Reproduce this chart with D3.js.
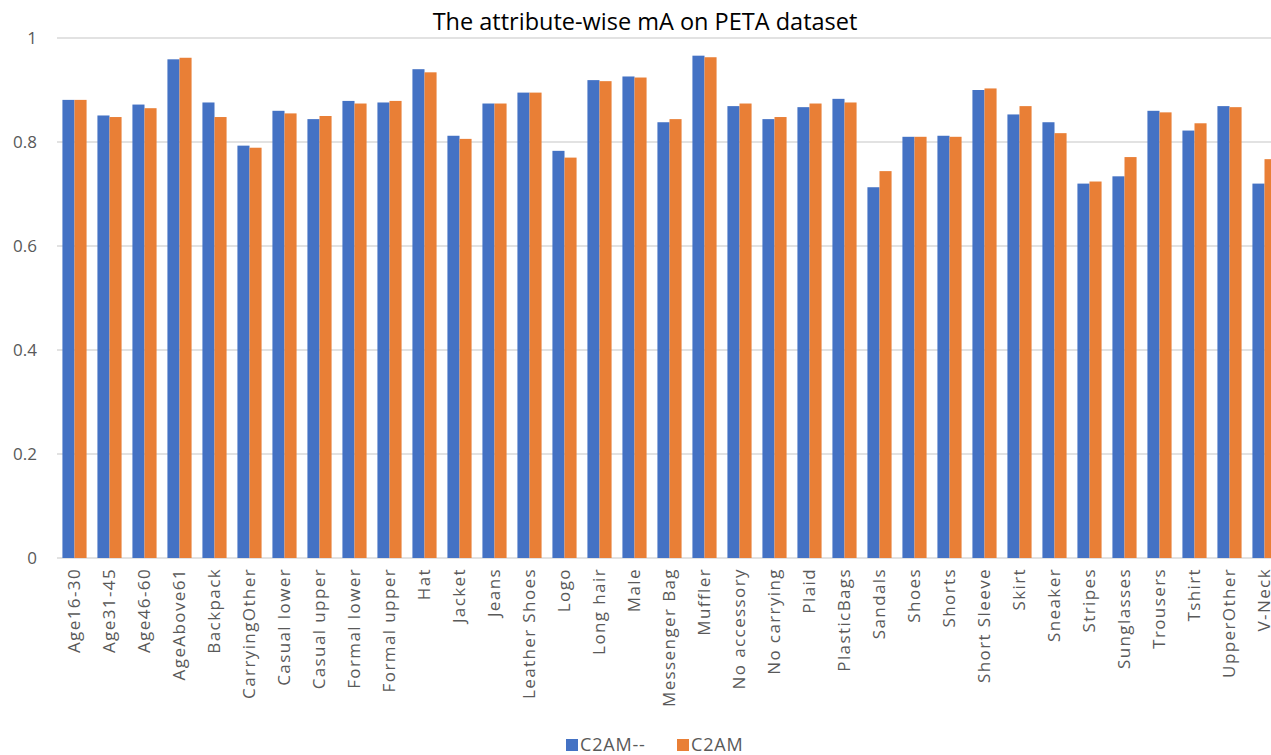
<!DOCTYPE html>
<html>
<head>
<meta charset="utf-8">
<script src="https://cdn.jsdelivr.net/npm/d3@7"></script>
<style>
  html, body { margin: 0; padding: 0; background: #fff; overflow: hidden; }
  svg { display: block; font-family: "Open Sans", "Noto Sans", sans-serif; }
</style>
</head>
<body>
<svg id="chart" width="1271" height="755"></svg>
<script>
// Attribute names (x categories)
const categories = [
  "Age16-30", "Age31-45", "Age46-60", "AgeAbove61", "Backpack", "CarryingOther",
  "Casual lower", "Casual upper", "Formal lower", "Formal upper", "Hat", "Jacket",
  "Jeans", "Leather Shoes", "Logo", "Long hair", "Male", "Messenger Bag", "Muffler",
  "No accessory", "No carrying", "Plaid", "PlasticBags", "Sandals", "Shoes", "Shorts",
  "Short Sleeve", "Skirt", "Sneaker", "Stripes", "Sunglasses", "Trousers", "Tshirt",
  "UpperOther", "V-Neck"
];

// Series names
const seriesNames = ["C2AM--", "C2AM"];

// mA per attribute, C2AM--
const c2amMinus = [
  0.881, 0.851, 0.872, 0.959, 0.876, 0.793,
  0.860, 0.844, 0.879, 0.876, 0.940, 0.812,
  0.874, 0.895, 0.783, 0.919, 0.926, 0.838, 0.966,
  0.869, 0.844, 0.867, 0.883, 0.713, 0.810, 0.812,
  0.900, 0.853, 0.838, 0.720, 0.734, 0.860, 0.822,
  0.869, 0.720
];

// mA per attribute, C2AM
const c2am = [
  0.881, 0.848, 0.865, 0.962, 0.848, 0.789,
  0.855, 0.850, 0.874, 0.879, 0.934, 0.806,
  0.874, 0.895, 0.770, 0.917, 0.924, 0.844, 0.963,
  0.874, 0.848, 0.874, 0.876, 0.744, 0.810, 0.810,
  0.903, 0.869, 0.817, 0.724, 0.771, 0.857, 0.836,
  0.867, 0.767
];

// Y axis ticks
const yTicks = [0, 0.2, 0.4, 0.6, 0.8, 1];

const titleText = "The attribute-wise mA on PETA dataset";
const colors = ["#4472C4", "#E97F36"];

const svg = d3.select("#chart");
const plot = { left: 57, top: 38, bottom: 558 };
const step = 35;

const x = d3.scaleBand()
  .domain(categories)
  .range([plot.left, plot.left + step * categories.length])
  .paddingInner(0.31)
  .paddingOuter(0.155);

const xs = d3.scaleBand()
  .domain(seriesNames)
  .range([0, x.bandwidth()]);

const y = d3.scaleLinear().domain([0, 1]).range([plot.bottom, plot.top]);

// Gridlines
svg.append("g")
  .selectAll("line")
  .data(yTicks)
  .join("line")
  .attr("x1", plot.left)
  .attr("x2", 1271)
  .attr("y1", d => y(d))
  .attr("y2", d => y(d))
  .attr("stroke", "#d9d9d9")
  .attr("stroke-width", 1.5);

// Y tick labels
svg.append("g")
  .selectAll("text")
  .data(yTicks)
  .join("text")
  .attr("x", 37)
  .attr("y", d => y(d))
  .attr("dy", "0.35em")
  .attr("text-anchor", "end")
  .attr("font-size", 17)
  .attr("fill", "#595959")
  .text(d => d3.format("~g")(d));

// Bars
const seriesData = [c2amMinus, c2am];
const groups = svg.append("g")
  .selectAll("g")
  .data(seriesData)
  .join("g")
  .attr("fill", (d, i) => colors[i]);

groups.each(function (vals, si) {
  d3.select(this)
    .selectAll("rect")
    .data(vals)
    .join("rect")
    .attr("x", (v, i) => x(categories[i]) + xs(seriesNames[si]))
    .attr("width", xs.bandwidth())
    .attr("y", v => y(v))
    .attr("height", v => y(0) - y(v));
});

// Category labels, rotated
svg.append("g")
  .selectAll("text")
  .data(categories)
  .join("text")
  .attr("transform", d => `translate(${x(d) + x.bandwidth() / 2},${plot.bottom + 10}) rotate(-90)`)
  .attr("dy", "0.35em")
  .attr("text-anchor", "end")
  .attr("font-size", 17)
  .attr("letter-spacing", "1.4px")
  .attr("fill", "#595959")
  .text(d => d);

// Title
svg.append("text")
  .attr("x", 645)
  .attr("y", 30)
  .attr("text-anchor", "middle")
  .attr("font-size", 23.5)
  .attr("fill", "#000")
  .text(titleText);

// Legend
const legendX = [566, 677];
const legend = svg.append("g")
  .selectAll("g")
  .data(seriesNames)
  .join("g")
  .attr("transform", (d, i) => `translate(${legendX[i]},739)`);
legend.append("rect")
  .attr("width", 12)
  .attr("height", 12)
  .attr("fill", (d, i) => colors[i]);
legend.append("text")
  .attr("x", 14)
  .attr("y", 6)
  .attr("dy", "0.36em")
  .attr("font-size", 18)
  .attr("letter-spacing", "0.8px")
  .attr("fill", "#595959")
  .text(d => d);
</script>
</body>
</html>
